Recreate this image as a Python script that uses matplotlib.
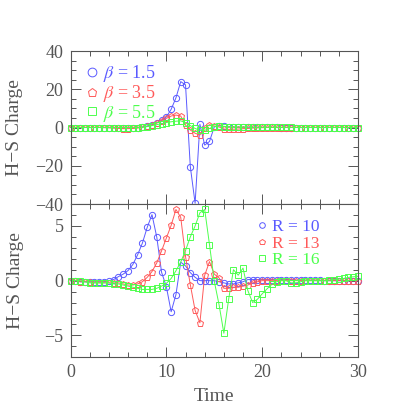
import numpy as np
import matplotlib
matplotlib.use("Agg")
import matplotlib.pyplot as plt
from matplotlib.ticker import MultipleLocator

plt.rcParams['font.family'] = ['Liberation Serif', 'DejaVu Serif']
plt.rcParams['mathtext.fontset'] = 'stix'

time = [0.0, 0.5, 1.0, 1.5, 2.0, 2.5, 3.0, 3.5, 4.0, 4.5,
        5.0, 5.5, 6.0, 6.5, 7.0, 7.5, 8.0, 8.5, 9.0, 9.5,
        10.0, 10.5, 11.0, 11.5, 12.0, 12.5, 13.0, 13.5, 14.0, 14.5,
        15.0, 15.5, 16.0, 16.5, 17.0, 17.5, 18.0, 18.5, 19.0, 19.5,
        20.0, 20.5, 21.0, 21.5, 22.0, 22.5, 23.0, 23.5, 24.0, 24.5,
        25.0, 25.5, 26.0, 26.5, 27.0, 27.5, 28.0, 28.5, 29.0, 29.5, 30.0]

# top panel: beta series
beta_labels = [r'$\beta$ = 1.5', r'$\beta$ = 3.5', r'$\beta$ = 5.5']
beta_15 = [0, 0, 0, 0, 0, 0, 0, 0, 0, -0.1,
           -0.2, -0.3, -0.3, -0.2, 0, 0.3, 0.8, 1.5, 2.5, 3.8,
           5.5, 9.5, 15.5, 24.0, 22.3, -20.5, -39.6, 1.7, -9.2, -7.3,
           0.3, 1.0, 0.6, 0.3, 0.2, 0.1, 0.1, 0.1, 0.1, 0.1,
           0.1, 0.1, 0.1, 0.1, 0, 0, 0, 0, 0, 0,
           0, 0, 0, 0, 0, 0, 0, 0, 0, 0, 0]
beta_35 = [0, 0, 0, 0, 0, 0, 0, -0.1, -0.2, -0.3,
           -0.5, -0.6, -0.6, -0.5, -0.3, 0.1, 0.6, 1.3, 2.3, 3.5,
           4.8, 6.0, 6.5, 6.0, 1.3, -1.3, -3.0, -3.9, -0.4, 1.5,
           0.8, 0.3, -0.8, -1.0, -0.9, -0.8, -0.6, -0.5, -0.3, -0.2,
           -0.1, 0, 0, 0, 0, 0, 0, 0, 0, 0,
           0, 0, 0, 0, 0, 0, 0, 0, 0, 0, 0]
beta_55 = [0, 0, 0, 0, 0, 0, 0, 0, 0, 0,
           0, 0, 0, 0, 0, 0.2, 0.5, 1.0, 1.5, 2.0,
           2.6, 3.0, 3.3, 3.5, 2.5, 1.0, -0.5, -1.5, -1.5, -0.5,
           0.5, 0.8, 0.5, 0.3, 0.3, 0.2, 0.2, 0.2, 0.2, 0.1,
           0.1, 0.1, 0.1, 0.1, 0.1, 0.1, 0.1, 0, 0, 0,
           0, 0, 0, 0, 0, 0, 0, 0, 0, 0, 0]

# bottom panel: R series
r_labels = ['R = 10', 'R = 13', 'R = 16']
r_10 = [0.0, 0.0, -0.1, -0.1, -0.1, -0.1, -0.1, -0.1, 0.0, 0.1,
        0.37, 0.6, 0.92, 1.47, 2.36, 3.43, 4.86, 6.03, 3.98, 0.77,
        -0.55, -2.84, -1.28, 1.69, 1.35, 0.73, 0.31, 0.0, 0.0, 0.0,
        0.0, -0.1, -0.2, -0.3, -0.3, -0.2, -0.1, 0.1, 0.1, 0.1,
        0.1, 0.1, 0.1, 0.1, 0.1, 0.1, 0.1, 0.05, 0.05, 0.05,
        0.05, 0.05, 0.05, 0.0, 0.0, 0.0, 0.0, 0.0, 0.0, 0.0, 0.0]
r_13 = [0.0, 0.0, -0.1, -0.1, -0.1, -0.2, -0.2, -0.2, -0.2, -0.2,
        -0.2, -0.3, -0.4, -0.4, -0.3, -0.1, 0.3, 0.83, 1.62, 2.72,
        3.89, 5.05, 6.5, 5.78, 2.2, -0.37, -2.72, -3.85, 0.49, 1.74,
        0.6, 0.25, -0.7, -0.7, -0.6, -0.6, -0.5, -0.4, -0.2, -0.1,
        0.0, 0.0, 0.0, 0.0, 0.0, 0.0, 0.0, 0.0, 0.0, 0.0,
        0.0, 0.0, 0.0, 0.0, 0.0, 0.0, 0.0, 0.0, 0.0, 0.0, 0.0]
r_16 = [0.0, 0.0, 0.0, -0.1, -0.2, -0.2, -0.2, -0.2, -0.2, -0.3,
        -0.3, -0.4, -0.5, -0.6, -0.7, -0.8, -0.8, -0.8, -0.7, -0.5,
        -0.25, 0.2, 0.9, 1.7, 2.75, 4.0, 5.0, 6.2, 6.5, 3.3,
        -0.05, -2.2, -4.8, -1.7, 1.0, 0.5, 1.15, -0.9, -2.0, -1.7,
        -1.2, -0.75, -0.35, -0.1, 0.0, 0.0, -0.2, -0.2, -0.1, 0.0,
        0.0, 0.0, 0.0, 0.0, 0.05, 0.1, 0.15, 0.2, 0.3, 0.35, 0.4]

colors = ['#5a5aff', '#ff5a5a', '#4dff4d']
markers = ['o', 'p', 's']
label_gray = '#555555'
MS = 4.5
W = H = 409

fig = plt.figure(figsize=(W / 100, H / 100), dpi=100)
ax1 = fig.add_axes([0.1724, 0.5012, 0.703, 0.3741])
ax2 = fig.add_axes([0.1724, 0.1264, 0.703, 0.3748])


def style(ax):
    for sp in ax.spines.values():
        sp.set_color('#555555')
        sp.set_linewidth(0.8)
    ax.tick_params(which='both', direction='in', top=True, right=True,
                   colors='#555555', labelcolor=label_gray, labelsize=13)
    ax.tick_params(which='major', length=7, width=0.7, pad=5)
    ax.tick_params(which='minor', length=3.5, width=0.7)
    ax.set_xlim(0, 30)
    ax.xaxis.set_major_locator(MultipleLocator(10))
    ax.xaxis.set_minor_locator(MultipleLocator(2))


def make_legend(ax, fontsize, mscale, text_left_px, first_center_px, row_px):
    """Place legend so first label's left edge/centre sit at given pixel spots
    (pixel coordinates measured from the image's top-left)."""
    ls = 0.2
    anchor = [0.1, 0.9]
    leg = None
    for _ in range(4):
        if leg is not None:
            leg.remove()
        leg = ax.legend(loc='upper left', bbox_to_anchor=tuple(anchor),
                        frameon=False, handlelength=0.0, handletextpad=0.6,
                        labelspacing=ls, fontsize=fontsize,
                        labelcolor='markeredgecolor', borderpad=0.0,
                        borderaxespad=0.0, markerscale=mscale)
        for h in leg.legend_handles:
            h.set_linestyle('none')
        fig.canvas.draw()
        texts = leg.get_texts()
        b0 = texts[0].get_window_extent()
        b1 = texts[1].get_window_extent()
        cur_left = b0.x0
        cur_center = H - (b0.y0 + b0.y1) / 2
        cur_row = ((b0.y0 + b0.y1) - (b1.y0 + b1.y1)) / 2
        axb = ax.get_window_extent()
        anchor[0] += (text_left_px - cur_left) / axb.width
        anchor[1] -= (first_center_px - cur_center) / axb.height
        ls += (row_px - cur_row) / (fontsize * 100 / 72)
    return leg


for ys, c, m, lab in zip([beta_15, beta_35, beta_55], colors, markers, beta_labels):
    ax1.plot(time, ys, color=c, lw=0.7, marker=m, ms=MS, mfc='none',
             mec=c, mew=0.7, label=lab, clip_on=False)
style(ax1)
ax1.set_ylim(-40, 40)
ax1.yaxis.set_major_locator(MultipleLocator(20))
ax1.yaxis.set_minor_locator(MultipleLocator(5))
ax1.tick_params(axis='x', labelbottom=False)
ax1.set_ylabel('H\u2212S Charge', fontsize=14, color=label_gray, labelpad=9)

for ys, c, m, lab in zip([r_10, r_13, r_16], colors, markers, r_labels):
    ax2.plot(time, ys, color=c, lw=0.7, marker=m, ms=MS, mfc='none',
             mec=c, mew=0.7, label=lab, clip_on=False)
style(ax2)
ax2.set_ylim(-7, 7)
ax2.yaxis.set_major_locator(MultipleLocator(5))
ax2.yaxis.set_minor_locator(MultipleLocator(1))
ax2.set_ylabel('H\u2212S Charge', fontsize=14, color=label_gray, labelpad=15)
ax2.set_xlabel('Time', fontsize=14, color=label_gray, labelpad=5)
ax2.set_yticks([-5, 0, 5])
ax2.set_yticklabels(['\u22125', '0', '5'])

make_legend(ax1, 13, 1.4, 103, 74, 19.5)
make_legend(ax2, 12.5, 0.9, 272, 227, 16.7)

fig.savefig('out.png', dpi=100)
